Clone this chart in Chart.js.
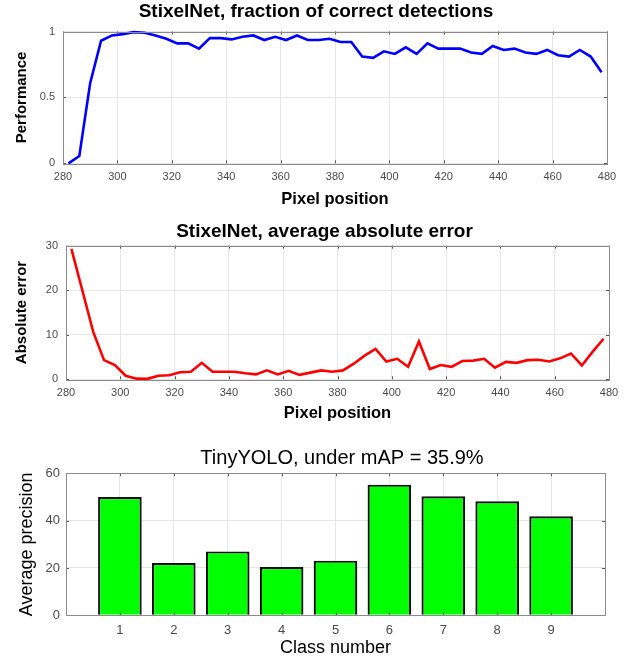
<!DOCTYPE html>
<html><head><meta charset="utf-8">
<script src="https://cdn.jsdelivr.net/npm/chart.js@4.4.1/dist/chart.umd.min.js"></script>
<style>
html,body{margin:0;padding:0;background:#fff;width:638px;height:659px;overflow:hidden}
canvas{position:absolute;left:0}
</style></head><body>
<canvas id="c1" width="638" height="215" style="top:0"></canvas>
<canvas id="c2" width="638" height="215" style="top:215px"></canvas>
<canvas id="c3" width="638" height="229" style="top:430px"></canvas>
<script>
// ---------- data ----------
const pixelPositions = [282,286,290,294,298,302,306,310,314,318,322,326,330,334,338,342,346,350,354,358,362,366,370,374,378,382,386,390,394,398,402,406,410,414,418,422,426,430,434,438,442,446,450,454,458,462,466,470,474,478];
const fractionCorrect = [0.00,0.055,0.61,0.93,0.97,0.98,0.995,0.99,0.97,0.945,0.91,0.91,0.87,0.95,0.95,0.94,0.96,0.97,0.935,0.96,0.935,0.97,0.935,0.935,0.945,0.92,0.92,0.81,0.80,0.85,0.83,0.88,0.83,0.91,0.87,0.87,0.87,0.84,0.83,0.89,0.86,0.87,0.84,0.83,0.86,0.82,0.81,0.86,0.81,0.69];
const absoluteError = [29.3,20.0,10.7,4.3,3.2,0.8,0.15,0.1,0.8,0.9,1.6,1.7,3.7,1.7,1.7,1.7,1.35,1.1,2.0,1.1,1.9,1.0,1.5,2.0,1.7,2.0,3.5,5.3,6.8,4.0,4.6,2.8,8.5,2.3,3.2,2.8,4.1,4.2,4.6,2.6,3.9,3.7,4.3,4.4,4.0,4.7,5.8,3.1,6.2,9.1];
const classNumbers = ['1','2','3','4','5','6','7','8','9'];
const averagePrecision = [50.0,22.1,27.0,20.4,23.1,55.2,50.3,48.2,41.8];
const perfTicks = [0, 0.5, 1];
const errTicks = [0, 10, 20, 30];
const apTicks = [0, 20, 40, 60];

// ---------- helpers ----------
const FONT = "'Liberation Sans', Arial, Helvetica, sans-serif";
const NARROW = "'Liberation Sans Narrow', 'Liberation Sans', Arial, sans-serif";
Chart.defaults.font.family = FONT;
Chart.defaults.animation = false;

const boxPlugin = {
  id: 'box',
  afterDatasetsDraw(chart, args, o) {
    const {ctx, chartArea: a, scales} = chart;
    ctx.save();
    ctx.lineWidth = 1;
    ctx.strokeStyle = o.tickColor;
    const L = o.len;
    ctx.beginPath();
    scales.x.ticks.forEach((t, i) => {
      if (t.label === '') return;
      const px = Math.round(scales.x.getPixelForTick(i)) + 0.5;
      ctx.moveTo(px, a.bottom); ctx.lineTo(px, a.bottom - L);
      ctx.moveTo(px, a.top); ctx.lineTo(px, a.top + L);
    });
    scales.y.ticks.forEach((t, i) => {
      const py = Math.round(scales.y.getPixelForTick(i)) + 0.5;
      ctx.moveTo(a.left, py); ctx.lineTo(a.left + L, py);
      ctx.moveTo(a.right, py); ctx.lineTo(a.right - L, py);
    });
    ctx.stroke();
    ctx.strokeStyle = o.color;
    ctx.strokeRect(Math.round(a.left) + 0.5, Math.round(a.top) + 0.5, Math.round(a.right - a.left), Math.round(a.bottom - a.top));
    ctx.restore();
  }
};
const titlePlugin = {
  id: 'ptitle',
  afterDraw(chart, args, o) {
    const ctx = chart.ctx;
    ctx.save();
    ctx.font = o.font;
    ctx.fillStyle = '#000';
    ctx.textAlign = 'center';
    ctx.textBaseline = 'alphabetic';
    ctx.fillText(o.text, o.x, o.y);
    ctx.restore();
  }
};

function yScale(min, max, step, tickList, leftW, titleText, titleFont, titlePad, tickFont, tickPad) {
  return {
    type: 'linear', min, max,
    afterBuildTicks(s) { s.ticks = tickList.map(v => ({value: v})); },
    afterFit(s) { s.width = leftW; },
    grid: {color: '#e6e6e6', drawTicks: false, lineWidth: 1},
    border: {display: false},
    ticks: {color: '#4a4a4a', font: tickFont, padding: tickPad, callback: v => String(v)},
    title: {display: true, text: titleText, color: '#000', font: titleFont, padding: {top: titlePad, bottom: 0}}
  };
}

// ---------- chart 1 ----------
new Chart(document.getElementById('c1'), {
  type: 'line',
  data: {datasets: [{
    data: pixelPositions.map((p, i) => ({x: p, y: fractionCorrect[i]})),
    borderColor: '#0000ff', borderWidth: 2.6, pointRadius: 0, tension: 0, clip: false
  }]},
  options: {
    responsive: false,
    layout: {padding: {top: 31.5, right: 31, left: 0, bottom: 0}},
    plugins: {legend: {display: false}, tooltip: {enabled: false},
      ptitle: {text: 'StixelNet, fraction of correct detections', font: 'bold 19px ' + FONT, x: 316, y: 16.7},
      box: {color: '#8a8a8a', tickColor: '#555', len: 3}},
    scales: {
      x: {type: 'linear', min: 280, max: 480,
        ticks: {stepSize: 20, color: '#4a4a4a', font: {size: 11, family: NARROW}, padding: 7, maxRotation: 0},
        afterFit(s) { s.height = 51.7; },
        grid: {color: '#e6e6e6', drawTicks: false}, border: {display: false},
        title: {display: true, text: 'Pixel position', color: '#000', font: {size: 16.5, weight: 'bold'}, padding: {top: 0, bottom: 6}}},
      y: yScale(0, 1, 0.5, perfTicks, 63, 'Performance', {size: 15, weight: 'bold'}, 13, {size: 11, family: NARROW}, 8)
    }
  },
  plugins: [boxPlugin, titlePlugin]
});

// ---------- chart 2 ----------
new Chart(document.getElementById('c2'), {
  type: 'line',
  data: {datasets: [{
    data: pixelPositions.map((p, i) => ({x: p, y: absoluteError[i]})),
    borderColor: '#ff0000', borderWidth: 2.6, pointRadius: 0, tension: 0, clip: false
  }]},
  options: {
    responsive: false,
    layout: {padding: {top: 30.7, right: 29, left: 0, bottom: 0}},
    plugins: {legend: {display: false}, tooltip: {enabled: false},
      ptitle: {text: 'StixelNet, average absolute error', font: 'bold 19px ' + FONT, x: 324.5, y: 21.7},
      box: {color: '#8a8a8a', tickColor: '#555', len: 3}},
    scales: {
      x: {type: 'linear', min: 280, max: 480,
        ticks: {stepSize: 20, color: '#4a4a4a', font: {size: 11, family: NARROW}, padding: 7, maxRotation: 0},
        afterFit(s) { s.height = 50.7; },
        grid: {color: '#e6e6e6', drawTicks: false}, border: {display: false},
        title: {display: true, text: 'Pixel position', color: '#000', font: {size: 16.5, weight: 'bold'}, padding: {top: 0, bottom: 7}}},
      y: yScale(0, 30, 10, errTicks, 66, 'Absolute error', {size: 15, weight: 'bold'}, 13, {size: 11, family: NARROW}, 8)
    }
  },
  plugins: [boxPlugin, titlePlugin]
});

// ---------- chart 3 ----------
new Chart(document.getElementById('c3'), {
  type: 'bar',
  data: {
    labels: ['', ...classNumbers, ''],
    datasets: [{
      data: [null, ...averagePrecision, null],
      backgroundColor: '#00ff00', borderColor: '#111', borderWidth: 2.2,
      categoryPercentage: 1.0, barPercentage: 0.81
    }]
  },
  options: {
    responsive: false,
    layout: {padding: {top: 43.3, right: 33, left: 0, bottom: 0}},
    plugins: {legend: {display: false}, tooltip: {enabled: false},
      ptitle: {text: 'TinyYOLO, under mAP = 35.9%', font: '20px ' + FONT, x: 342, y: 34},
      box: {color: '#8a8a8a', tickColor: '#555', len: 3}},
    scales: {
      x: {type: 'category', offset: false,
        ticks: {color: '#4a4a4a', font: {size: 13}, padding: 7, maxRotation: 0, autoSkip: false},
        afterFit(s) { s.height = 43.7; },
        grid: {color: '#e6e6e6', drawTicks: false, offset: false}, border: {display: false},
        title: {display: true, text: 'Class number', color: '#000', font: {size: 18}, padding: {top: 0, bottom: 0}}},
      y: yScale(0, 60, 20, apTicks, 66, 'Average precision', {size: 18}, 16, {size: 13}, 6)
    }
  },
  plugins: [boxPlugin, titlePlugin]
});
</script>
</body></html>
